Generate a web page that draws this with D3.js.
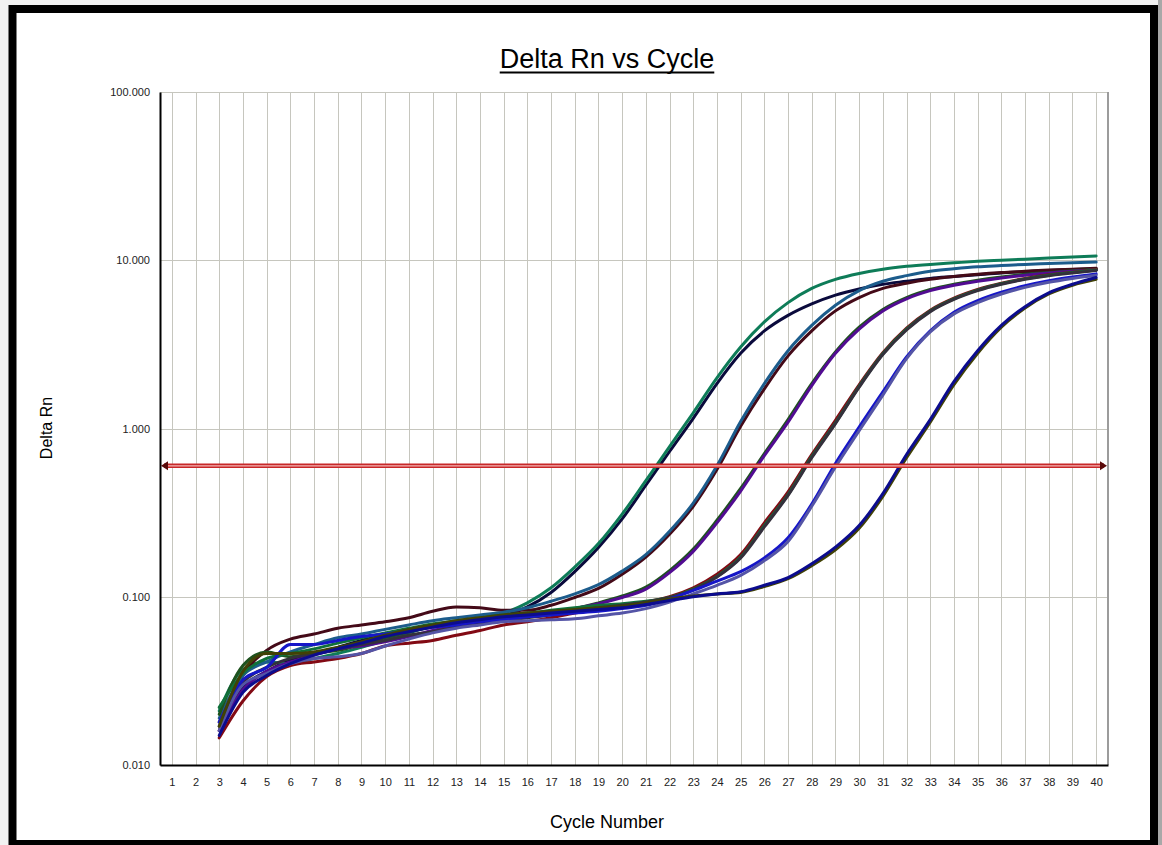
<!DOCTYPE html>
<html>
<head>
<meta charset="utf-8">
<script src="https://cdn.jsdelivr.net/npm/d3@7"></script>
<style>
  html, body { margin: 0; padding: 0; background: #f2f2f2; }
  svg { display: block; }
  text { font-family: Arial, "Liberation Sans", sans-serif; }
</style>
</head>
<body>
<svg id="chart" width="1162" height="845"></svg>
<script>
// Amplification data: Delta Rn per cycle (cycles 3..40) for each well
const cycles = [3,4,5,6,7,8,9,10,11,12,13,14,15,16,17,18,19,20,21,22,23,24,25,26,27,28,29,30,31,32,33,34,35,36,37,38,39,40];
const xTickValues = [1,2,3,4,5,6,7,8,9,10,11,12,13,14,15,16,17,18,19,20,21,22,23,24,25,26,27,28,29,30,31,32,33,34,35,36,37,38,39,40];
const yTickValues = [100, 10, 1, 0.1, 0.01];
const yTickLabels = ["100.000", "10.000", "1.000", "0.100", "0.010"];
const thresholdValue = 0.6;

const wellNavyA   = [0.017,0.029,0.036,0.042,0.046,0.050,0.055,0.059,0.063,0.067,0.070,0.073,0.077,0.087,0.106,0.141,0.196,0.29,0.46,0.73,1.15,1.85,2.8,3.8,4.7,5.5,6.2,6.75,7.2,7.5,7.8,8.0,8.2,8.4,8.55,8.7,8.8,8.9];
const wellGreenA  = [0.021,0.037,0.041,0.040,0.043,0.046,0.050,0.055,0.061,0.067,0.071,0.075,0.080,0.092,0.113,0.150,0.207,0.31,0.49,0.78,1.24,2.0,3.05,4.3,5.6,6.8,7.7,8.35,8.85,9.2,9.45,9.65,9.85,10.0,10.15,10.3,10.45,10.6];
const wellMaroonB = [0.016,0.034,0.048,0.056,0.060,0.065,0.068,0.071,0.075,0.082,0.087,0.086,0.083,0.083,0.089,0.099,0.112,0.136,0.172,0.235,0.345,0.57,1.03,1.72,2.7,3.8,5.0,6.0,6.8,7.3,7.7,8.0,8.25,8.45,8.6,8.75,8.85,8.95];
const wellSteelB  = [0.019,0.034,0.041,0.047,0.052,0.057,0.060,0.064,0.068,0.072,0.075,0.078,0.081,0.086,0.094,0.104,0.118,0.142,0.178,0.245,0.36,0.60,1.1,1.85,2.9,4.1,5.4,6.6,7.5,8.1,8.6,8.9,9.15,9.3,9.45,9.55,9.65,9.75];
const wellGreenC  = [0.020,0.039,0.047,0.044,0.046,0.048,0.052,0.057,0.062,0.066,0.069,0.072,0.075,0.078,0.081,0.085,0.092,0.101,0.114,0.143,0.192,0.285,0.44,0.71,1.13,1.85,2.85,4.0,5.1,6.0,6.7,7.2,7.6,7.95,8.25,8.45,8.65,8.8];
const wellPurpleC = [0.016,0.028,0.036,0.041,0.045,0.049,0.051,0.054,0.058,0.063,0.067,0.070,0.073,0.076,0.080,0.085,0.091,0.099,0.111,0.139,0.186,0.275,0.425,0.69,1.09,1.8,2.8,3.9,5.0,5.9,6.6,7.1,7.5,7.85,8.15,8.4,8.6,8.75];
const wellRedD    = [0.0145,0.024,0.0335,0.039,0.041,0.043,0.046,0.051,0.053,0.055,0.059,0.063,0.068,0.071,0.075,0.080,0.084,0.088,0.093,0.100,0.113,0.136,0.178,0.275,0.42,0.7,1.12,1.82,2.82,3.95,5.05,5.95,6.7,7.3,7.8,8.2,8.5,8.8];
const wellGreenD  = [0.022,0.035,0.043,0.046,0.049,0.053,0.057,0.061,0.065,0.069,0.072,0.075,0.078,0.080,0.083,0.086,0.089,0.091,0.094,0.099,0.111,0.132,0.172,0.265,0.405,0.68,1.08,1.78,2.78,3.9,5.0,5.9,6.65,7.25,7.75,8.15,8.45,8.75];
const wellGrayD   = [0.018,0.031,0.038,0.043,0.046,0.049,0.052,0.055,0.059,0.062,0.066,0.069,0.072,0.075,0.078,0.082,0.086,0.089,0.093,0.099,0.110,0.131,0.170,0.26,0.40,0.67,1.07,1.76,2.75,3.85,4.95,5.85,6.6,7.2,7.7,8.1,8.4,8.7];
const wellBlueE   = [0.018,0.032,0.038,0.052,0.052,0.055,0.058,0.060,0.063,0.066,0.068,0.071,0.073,0.076,0.078,0.080,0.082,0.085,0.089,0.097,0.109,0.124,0.141,0.17,0.224,0.355,0.62,1.02,1.65,2.66,3.8,4.9,5.75,6.45,7.05,7.55,7.95,8.3];
const wellSlateE  = [0.016,0.030,0.035,0.040,0.043,0.044,0.046,0.051,0.056,0.061,0.065,0.068,0.071,0.072,0.073,0.074,0.077,0.080,0.085,0.093,0.104,0.117,0.134,0.164,0.213,0.345,0.59,0.97,1.58,2.6,3.75,4.8,5.6,6.3,6.9,7.4,7.8,8.15];
const wellOliveF  = [0.017,0.036,0.046,0.046,0.047,0.050,0.054,0.059,0.064,0.068,0.072,0.075,0.078,0.080,0.082,0.084,0.086,0.088,0.092,0.097,0.101,0.104,0.106,0.115,0.128,0.153,0.19,0.255,0.395,0.67,1.09,1.82,2.8,4.0,5.2,6.3,7.1,7.7];
const wellNavyF   = [0.015,0.027,0.034,0.040,0.045,0.049,0.053,0.058,0.062,0.066,0.070,0.073,0.076,0.078,0.080,0.082,0.084,0.086,0.090,0.095,0.100,0.104,0.107,0.117,0.130,0.157,0.197,0.265,0.41,0.70,1.13,1.9,2.9,4.1,5.3,6.4,7.2,7.9];

// Drawing order (later wells sit on top)
const wells = [
  { values: wellNavyA,   color: "#0a0a3c" },
  { values: wellGreenA,  color: "#0e7c58" },
  { values: wellMaroonB, color: "#440a18" },
  { values: wellSteelB,  color: "#1c5c8c" },
  { values: wellGreenC,  color: "#1e521e" },
  { values: wellPurpleC, color: "#520c92" },
  { values: wellRedD,    color: "#820a14" },
  { values: wellGreenD,  color: "#10703a" },
  { values: wellGrayD,   color: "#34303c" },
  { values: wellBlueE,   color: "#1616c8" },
  { values: wellSlateE,  color: "#5454a6" },
  { values: wellOliveF,  color: "#414106" },
  { values: wellNavyF,   color: "#0c0c8e" }
];

const svg = d3.select("#chart");

// Page frame
svg.append("rect").attr("x", 1158).attr("y", 0).attr("width", 4).attr("height", 845).attr("fill", "#a8a8a8");
svg.append("rect")
  .attr("x", 12.5).attr("y", 9).attr("width", 1141.5).attr("height", 835)
  .attr("fill", "#ffffff").attr("stroke", "#000").attr("stroke-width", 8);

const plotLeft = 160, plotRight = 1108, plotTop = 92, plotBottom = 765;
const x = d3.scaleLinear().domain([0.5, 40.5]).range([plotLeft, plotRight]);
const y = d3.scaleLog().domain([0.01, 100]).range([plotBottom, plotTop]);

// Grid
const grid = svg.append("g").attr("stroke", "#c6c6be").attr("stroke-width", 1);
grid.selectAll("line.v").data(xTickValues).join("line")
  .attr("class", "v")
  .attr("x1", d => Math.round(x(d)) + 0.5).attr("x2", d => Math.round(x(d)) + 0.5)
  .attr("y1", plotTop).attr("y2", plotBottom);
grid.selectAll("line.h").data(yTickValues).join("line")
  .attr("class", "h")
  .attr("x1", plotLeft).attr("x2", plotRight)
  .attr("y1", d => Math.round(y(d)) + 0.5).attr("y2", d => Math.round(y(d)) + 0.5);

// Right border of plot
svg.append("line").attr("x1", plotRight).attr("x2", plotRight).attr("y1", plotTop).attr("y2", plotBottom)
  .attr("stroke", "#9c9c9c").attr("stroke-width", 2);

// Axes
const yAxis = d3.axisLeft(y).tickValues(yTickValues)
  .tickFormat((d, i) => yTickLabels[i]).tickSize(0).tickPadding(10);
const gy = svg.append("g").attr("transform", `translate(${plotLeft},0)`).call(yAxis);
gy.select(".domain").attr("stroke", "#000").attr("stroke-width", 2);
gy.selectAll("text").attr("font-size", 11).attr("fill", "#222")
  .attr("font-family", "Arial, 'Liberation Sans', sans-serif");

const xAxis = d3.axisBottom(x).tickValues(xTickValues).tickSize(0).tickPadding(13);
const gx = svg.append("g").attr("transform", `translate(0,${plotBottom})`).call(xAxis);
gx.select(".domain").attr("stroke", "#000").attr("stroke-width", 2);
gx.selectAll("text").attr("font-size", 11).attr("fill", "#222")
  .attr("font-family", "Arial, 'Liberation Sans', sans-serif");

// Amplification curves
const line = d3.line()
  .x((d, i) => x(cycles[i]))
  .y(d => y(d))
  .curve(d3.curveMonotoneX);

svg.append("g").selectAll("path").data(wells).join("path")
  .attr("d", d => line(d.values))
  .attr("fill", "none")
  .attr("stroke", d => d.color)
  .attr("stroke-width", 3)
  .attr("stroke-linejoin", "round")
  .attr("stroke-linecap", "round");

// Threshold line with arrowheads
const ty = y(thresholdValue);
svg.append("line").attr("x1", plotLeft + 4).attr("x2", plotRight - 4).attr("y1", ty).attr("y2", ty)
  .attr("stroke", "#c82828").attr("stroke-width", 4.5);
svg.append("line").attr("x1", plotLeft + 4).attr("x2", plotRight - 4).attr("y1", ty).attr("y2", ty)
  .attr("stroke", "#f4b4b4").attr("stroke-width", 1.2);
svg.append("path")
  .attr("d", `M${plotLeft + 1},${ty} L${plotLeft + 8},${ty - 4.5} L${plotLeft + 8},${ty + 4.5} Z`)
  .attr("fill", "#5a0a0a");
svg.append("path")
  .attr("d", `M${plotRight - 1},${ty} L${plotRight - 8},${ty - 4.5} L${plotRight - 8},${ty + 4.5} Z`)
  .attr("fill", "#5a0a0a");

// Title (underlined)
const title = svg.append("text")
  .attr("x", 607).attr("y", 68)
  .attr("text-anchor", "middle")
  .attr("font-size", 27)
  .attr("fill", "#000")
  .text("Delta Rn vs Cycle");
const tw = title.node().getComputedTextLength();
svg.append("line")
  .attr("x1", 607 - tw / 2).attr("x2", 607 + tw / 2)
  .attr("y1", 72.5).attr("y2", 72.5)
  .attr("stroke", "#000").attr("stroke-width", 2);

// Axis titles
svg.append("text")
  .attr("transform", "translate(52,428) rotate(-90)")
  .attr("text-anchor", "middle")
  .attr("font-size", 16)
  .attr("fill", "#000")
  .text("Delta Rn");

svg.append("text")
  .attr("x", 607).attr("y", 828)
  .attr("text-anchor", "middle")
  .attr("font-size", 18)
  .attr("fill", "#000")
  .text("Cycle Number");
</script>
</body>
</html>
